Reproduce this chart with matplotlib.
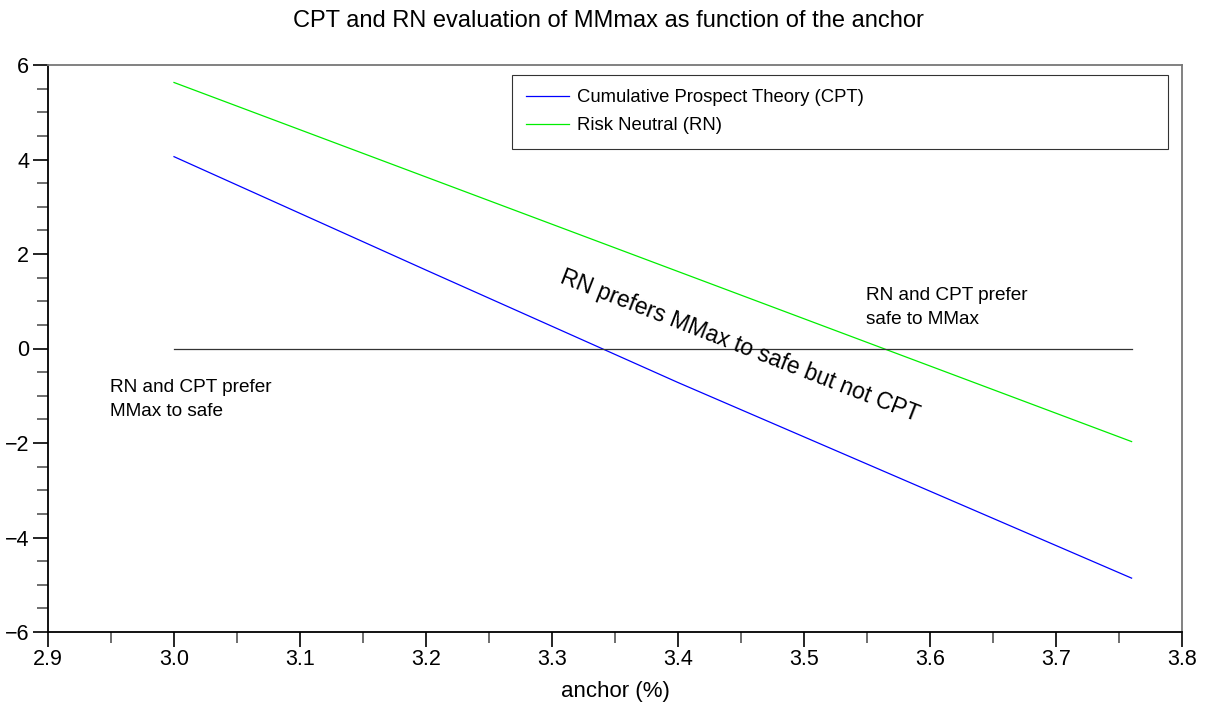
import matplotlib
matplotlib.use("Agg")
import matplotlib.pyplot as plt
from matplotlib.ticker import MultipleLocator

plt.rcParams['font.family'] = ['Liberation Sans', 'DejaVu Sans']

# Data
anchor = [3.0, 3.2, 3.4, 3.6, 3.76]
cpt = [4.06, 1.66, -0.72, -3.02, -4.86]
rn = [5.63, 3.63, 1.63, -0.37, -1.97]
zero_x = [3.0, 3.76]
zero_y = [0.0, 0.0]

title = "CPT and RN evaluation of MMmax as function of the anchor"
xlabel = "anchor (%)"
xticks = [2.9, 3.0, 3.1, 3.2, 3.3, 3.4, 3.5, 3.6, 3.7, 3.8]
yticks = [-6, -4, -2, 0, 2, 4, 6]

fig = plt.figure(figsize=(12.17, 7.04), dpi=100)
ax = fig.add_axes([48/1217, 1 - 632/704, (1182-48)/1217, (632-65)/704])

ax.plot(anchor, cpt, color='#0000ff', lw=0.9, label='Cumulative Prospect Theory (CPT)')
ax.plot(anchor, rn, color='#00ee00', lw=0.9, label='Risk Neutral (RN)')
ax.plot(zero_x, zero_y, color='#333333', lw=0.9)

ax.set_xlim(2.9, 3.8)
ax.set_ylim(-6, 6)
ax.set_xticks(xticks)
ax.set_xticklabels([f"{t:.1f}" for t in xticks])
ax.set_yticks(yticks)
ax.set_yticklabels([("\u2212" + str(-t)) if t < 0 else str(t) for t in yticks])
ax.xaxis.set_minor_locator(MultipleLocator(0.05))
ax.yaxis.set_minor_locator(MultipleLocator(0.5))
ax.tick_params(which='major', direction='out', length=10.5, width=1.2, labelsize=15.5, color='black', pad=3)
ax.tick_params(which='minor', direction='out', length=8, width=1.2, color='#555555')
ax.tick_params(axis='x', which='major', pad=2)

for s in ['left', 'bottom']:
    ax.spines[s].set_color('black')
    ax.spines[s].set_linewidth(1.3)
for s in ['top', 'right']:
    ax.spines[s].set_color('#777777')
    ax.spines[s].set_linewidth(1.3)

ax.set_xlabel(xlabel, fontsize=16, labelpad=8)
fig.text(0.5, 1 - 21/704, title, ha='center', va='center', fontsize=17)

x0 = (512 - 48) / 1134
w = (1168 - 512) / 1134
ytop = 1 - 10 / 567
h = 72 / 567
leg = ax.legend(loc='upper left', bbox_to_anchor=(x0, ytop - h, w, h), mode='expand', fontsize=13.3,
                frameon=True, fancybox=False, handlelength=2.3, handletextpad=0.45,
                borderpad=0.78, labelspacing=0.58, borderaxespad=0)
leg.get_frame().set_edgecolor('black')
leg.get_frame().set_linewidth(0.8)

ax.text(2.949, -0.65, "RN and CPT prefer\nMMax to safe", fontsize=13.7, ha='left', va='top', linespacing=1.5)
ax.text(3.549, 1.30, "RN and CPT prefer\nsafe to MMax", fontsize=13.7, ha='left', va='top', linespacing=1.5)
ax.text(3.449, 0.05, "RN prefers MMax to safe but not CPT", fontsize=16.5, ha='center', va='center',
        rotation=-21.3, rotation_mode='anchor')

fig.savefig("out.png", dpi=100)
